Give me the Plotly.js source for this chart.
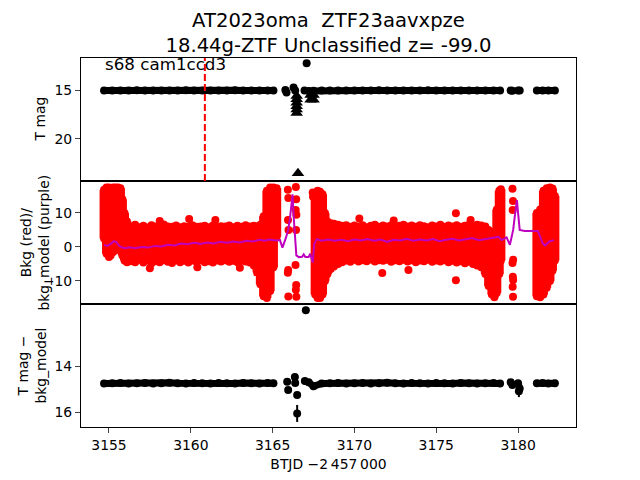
<!DOCTYPE html>
<html>
<head>
<meta charset="utf-8">
<script src="https://cdn.plot.ly/plotly-3.0.1.min.js"></script>
<style>
  body { margin: 0; background: #fff; }
  #chart { width: 640px; height: 480px; }
</style>
</head>
<body>
<div id="chart"></div>
<script>
// --- light curve (T mag) and T mag - bkg_model, same cadence; null = gap
const lcTime = [
  3154.7, 3155.2, 3155.7, 3156.2, 3156.7, 3157.2, 3157.7, 3158.2, 3158.7, 3159.2, 3159.7,
  3160.2, 3160.7, 3161.2, 3161.7, 3162.2, 3162.7, 3163.2, 3163.7, 3164.2, 3164.7, 3165.05,
  null,
  3167.2, 3167.5, 3168.0, 3168.5, 3169.0, 3169.5, 3170.0, 3170.5, 3171.0, 3171.5, 3172.0,
  3172.5, 3173.0, 3173.5, 3174.0, 3174.5, 3175.0, 3175.5, 3176.0, 3176.5, 3177.0, 3177.5,
  3178.0, 3178.5, 3178.9,
  null,
  3179.55, 3179.65,
  null,
  3180.0, 3180.1,
  null,
  3181.15, 3181.5, 3181.85, 3182.25
];
const lcMag = [
  15.05, 15.04, 15.06, 15.05, 15.03, 15.05, 15.06, 15.04, 15.05, 15.05, 15.03,
  15.04, 15.06, 15.05, 15.04, 15.05, 15.03, 15.06, 15.05, 15.04, 15.05, 15.06,
  null,
  15.10, 15.08, 15.05, 15.04, 15.06, 15.05, 15.04, 15.06, 15.05, 15.03, 15.05,
  15.06, 15.04, 15.05, 15.05, 15.03, 15.06, 15.04, 15.05, 15.06, 15.04, 15.05,
  15.05, 15.04, 15.06,
  null,
  15.05, 15.08,
  null,
  15.06, 15.04,
  null,
  15.05, 15.04, 15.06, 15.05
];
const lcMagSub = [
  14.76, 14.75, 14.74, 14.76, 14.75, 14.74, 14.76, 14.75, 14.73, 14.75, 14.76,
  14.74, 14.75, 14.76, 14.74, 14.75, 14.76, 14.74, 14.75, 14.76, 14.74, 14.75,
  null,
  14.70, 14.88, 14.76, 14.75, 14.74, 14.76, 14.75, 14.74, 14.76, 14.75, 14.73,
  14.75, 14.76, 14.74, 14.75, 14.76, 14.74, 14.75, 14.76, 14.74, 14.75, 14.76,
  14.75, 14.74, 14.76,
  null,
  14.70, 14.82,
  null,
  14.75, 14.98,
  null,
  14.75, 14.74, 14.76, 14.75
];

// isolated points around the gap
const lcPtTime = [3165.78, 3165.85, 3166.28, 3166.38, 3166.95, 3167.08];
const lcPtMag  = [15.0, 15.25, 14.75, 15.05, 15.05, 12.27];

const subPtTime = [3165.89, 3165.95, 3166.36, 3166.38, 3166.5, 3166.5, 3166.97, 3167.03, 3180.05];
const subPtMag  = [14.68, 15.04, 14.48, 14.74, 15.26, 16.06, 14.65, 11.57, 15.10];
const subPtErr  = [0, 0, 0, 0, 0.05, 0.37, 0, 0, 0.25];

// upper limits (triangles)
const limTime = [3166.47, 3166.47, 3166.47, 3166.47, 3166.47, 3166.47, 3167.32, 3167.5, 3167.32, 3167.5, 3166.55];
const limMag  = [15.6, 15.95, 16.3, 16.65, 17.0, 17.35, 15.5, 15.5, 16.0, 16.0, 23.5];

// --- background: envelope of the dense red scatter (low / high per time)
const bkgTime = [
  3154.70, 3154.85, 3155.00, 3155.10, 3155.25, 3155.40, 3155.55, 3155.70, 3155.82, 3155.95,
  3156.10, 3156.35, 3156.60, 3156.85, 3157.10, 3157.35, 3157.60, 3157.85, 3158.10, 3158.35,
  3158.60, 3158.85, 3159.10, 3159.35, 3159.60, 3159.85, 3160.10, 3160.35, 3160.60, 3160.85,
  3161.10, 3161.35, 3161.60, 3161.85, 3162.10, 3162.35, 3162.60, 3162.85, 3163.10, 3163.35,
  3163.60, 3163.85, 3164.05, 3164.25, 3164.45, 3164.65, 3164.85, 3165.05, 3165.25,
  3167.60, 3167.75, 3167.90, 3168.05, 3168.20, 3168.35, 3168.55, 3168.75, 3169.00, 3169.25,
  3169.50, 3169.75, 3170.00, 3170.25, 3170.50, 3170.75, 3171.00, 3171.25, 3171.50, 3171.75,
  3172.00, 3172.25, 3172.50, 3172.75, 3173.00, 3173.25, 3173.50, 3173.75, 3174.00, 3174.25,
  3174.50, 3174.75, 3175.00, 3175.25, 3175.50, 3175.75, 3176.00, 3176.25, 3176.50, 3176.75,
  3177.00, 3177.25, 3177.50, 3177.75, 3178.00, 3178.20, 3178.40, 3178.55, 3178.70, 3178.85,
  3178.95,
  3181.15, 3181.35, 3181.55, 3181.75, 3181.95, 3182.10, 3182.25
];
const bkgHi = [
  16.8, 17.5, 17.5, 15.8, 17.5, 17.5, 17.5, 17.3, 14.0, 10.0,
  7.5, 6.0, 6.5, 5.8, 6.2, 5.7, 6.4, 6.0, 5.8, 6.6,
  6.0, 5.9, 6.3, 5.8, 6.1, 5.9, 6.4, 5.9, 6.0, 6.2,
  5.8, 6.3, 5.9, 6.1, 6.0, 6.3, 5.8, 6.2, 5.9, 6.4,
  6.0, 6.2, 6.0, 6.5, 9.0, 16.5, 17.5, 17.5, 17.3,
  14.5, 16.5, 16.2, 15.5, 10.0, 7.5, 7.0, 6.8, 6.5, 6.2,
  6.4, 5.9, 6.3, 6.0, 6.4, 5.8, 6.2, 6.5, 5.9, 6.3,
  6.0, 6.4, 5.8, 6.2, 6.5, 6.0, 6.3, 5.9, 6.4, 6.1,
  5.8, 6.3, 6.0, 6.5, 5.9, 6.3, 6.0, 6.4, 5.9, 6.2,
  6.5, 6.0, 6.5, 6.3, 6.0, 5.0, 4.0, 4.5, 11.0, 16.5,
  17.0,
  10.0, 11.0, 16.5, 17.3, 17.5, 17.2, 15.0
];
const bkgLo = [
  2.5, -2.0, -3.0, -2.5, -1.5, -1.0, -0.5, -1.0, -2.5, -4.0,
  -4.5, -4.2, -4.5, -3.8, -4.6, -4.0, -4.8, -4.2, -4.5, -3.9,
  -4.4, -4.7, -4.0, -4.5, -4.1, -4.6, -4.0, -4.4, -3.9, -4.5,
  -4.2, -4.6, -4.0, -4.3, -3.9, -4.4, -4.1, -4.5, -4.0, -4.3,
  -4.6, -5.5, -7.5, -11.0, -14.5, -15.0, -13.0, -6.0, 3.0,
  -14.0, -15.0, -15.0, -14.0, -10.0, -8.0, -6.5, -5.8, -5.0, -4.5,
  -4.0, -4.4, -3.8, -4.3, -3.9, -4.2, -3.7, -4.3, -3.9, -4.1,
  -3.8, -4.4, -3.9, -4.2, -3.8, -4.3, -3.9, -4.5, -4.0, -4.2,
  -3.8, -4.4, -4.0, -4.3, -3.9, -4.5, -4.1, -4.6, -4.2, -4.8,
  -4.4, -5.0, -5.5, -6.0, -8.0, -11.5, -14.0, -14.8, -13.5, -8.0,
  -4.0,
  -14.5, -14.8, -14.0, -12.0, -10.0, -7.0, -4.0
];

// scattered background points outside the envelope
const bkgPtTime = [
  3165.93, 3165.96, 3165.94, 3165.97, 3165.95, 3165.93, 3165.96,
  3166.42, 3166.44, 3166.41, 3166.45, 3166.43, 3166.40, 3166.44, 3166.42, 3166.45,
  3167.45, 3167.47,
  3179.66, 3179.69, 3179.67, 3179.70, 3179.66, 3179.68, 3179.70, 3179.67, 3179.69,
  3157.5, 3158.1, 3159.9, 3160.4, 3161.5, 3163.0,
  3170.3, 3171.7, 3172.4, 3173.3, 3176.2, 3176.2, 3177.1
];
const bkgPtVal = [
  16.8, 14.4, 7.9, 5.0, -6.8, -7.6, -14.6,
  17.6, 14.0, 10.9, 9.5, 5.0, -5.3, -11.2, -12.6, -14.7,
  16.0, 14.8,
  17.1, 13.5, 10.9, -3.8, -4.7, -8.8, -9.7, -11.7, -14.7,
  -6.3, 7.6, 8.2, -6.0, 7.9, -6.1,
  8.4, -7.7, 7.8, -6.8, 9.9, -9.8, 7.9
];

// bkg_model (purple line)
const modelTime = [
  3154.7, 3154.9, 3155.1, 3155.3, 3155.45, 3155.6, 3155.8, 3156.0, 3156.3, 3156.6,
  3157.0, 3157.4, 3157.8, 3158.2, 3158.6, 3159.0, 3159.4, 3159.8, 3160.2, 3160.6,
  3161.0, 3161.4, 3161.8, 3162.2, 3162.6, 3163.0, 3163.4, 3163.8, 3164.2, 3164.5,
  3164.8, 3165.2, 3165.45, 3165.6, 3165.8, 3165.95, 3166.05, 3166.15, 3166.22, 3166.3,
  3166.38, 3166.45, 3166.6, 3166.8, 3166.9, 3167.0, 3167.2, 3167.3, 3167.45, 3167.55,
  3167.7, 3168.0, 3168.4, 3168.8, 3169.2, 3169.6, 3170.0, 3170.4, 3170.8, 3171.2,
  3171.6, 3172.0, 3172.4, 3172.8, 3173.2, 3173.6, 3174.0, 3174.4, 3174.8, 3175.2,
  3175.6, 3176.0, 3176.4, 3176.8, 3177.2, 3177.6, 3178.0, 3178.4, 3178.8, 3179.0,
  3179.3, 3179.5, 3179.7, 3179.85, 3179.93, 3180.0, 3180.1, 3180.4, 3181.2, 3181.35,
  3181.5, 3181.65, 3181.9, 3182.2
];
const modelVal = [
  0.6, 0.3, 0.9, 1.7, 1.4, 0.4, -0.2, -0.4, -0.1, -0.4,
  0.0, -0.2, 0.3, 0.1, 0.6, 0.4, 1.0, 0.8, 1.2, 0.9,
  1.3, 1.0, 1.5, 1.2, 1.6, 1.3, 1.8, 1.6, 2.1, 1.8,
  2.2, 1.9, 2.0, -0.2, 2.5, 5.0, 8.0, 12.0, 15.5, 8.0,
  1.0, -2.5, -3.0, -2.9, -2.2, -3.0, -3.0, -2.0, -4.6, 1.0,
  2.3, 1.8, 2.2, 1.8, 2.1, 1.7, 2.2, 1.9, 2.3, 1.8,
  2.2, 1.5, 2.1, 1.9, 2.4, 1.8, 2.2, 1.9, 2.3, 1.7,
  2.1, 2.4, 1.9, 2.2, 2.6, 2.0, 2.3, 2.8, 3.0, 2.0,
  2.8, 0.6, 5.0, 11.0, 13.8, 10.0, 5.0, 4.7, 4.7, 3.0,
  1.0, 0.4, 1.6, 2.0
];

const discoveryTime = 3160.86;
const xTicks = [3155, 3160, 3165, 3170, 3175, 3180];

// vertical strokes low -> high for the dense red scatter
const spanX = [], spanY = [];
bkgTime.forEach(function(t, i) {
    spanX.push(t, t, null);
    spanY.push(bkgLo[i], bkgHi[i], null);
});

const FONT = 'DejaVu Sans, sans-serif';

const data = [
    // top panel
    { x: lcTime, y: lcMag, xaxis: 'x3', yaxis: 'y3', mode: 'lines+markers',
      line: { color: 'black', width: 7 }, marker: { color: 'black', size: 8 } },
    { x: lcPtTime, y: lcPtMag, xaxis: 'x3', yaxis: 'y3', mode: 'markers',
      marker: { color: 'black', size: 8 } },
    { x: limTime, y: limMag, xaxis: 'x3', yaxis: 'y3', mode: 'markers',
      marker: { color: 'black', size: 11, symbol: 'triangle-up' } },
    // middle panel
    { x: spanX, y: spanY, xaxis: 'x2', yaxis: 'y2', mode: 'lines',
      line: { color: 'red', width: 9 } },
    { x: bkgTime.concat(bkgTime), y: bkgHi.concat(bkgLo), xaxis: 'x2', yaxis: 'y2',
      mode: 'markers', marker: { color: 'red', size: 8 } },
    { x: bkgPtTime, y: bkgPtVal, xaxis: 'x2', yaxis: 'y2', mode: 'markers',
      marker: { color: 'red', size: 8 } },
    { x: modelTime, y: modelVal, xaxis: 'x2', yaxis: 'y2', mode: 'lines',
      line: { color: '#bf00bf', width: 2 } },
    // bottom panel
    { x: lcTime, y: lcMagSub, xaxis: 'x', yaxis: 'y', mode: 'lines+markers',
      line: { color: 'black', width: 7 }, marker: { color: 'black', size: 8 } },
    { x: subPtTime, y: subPtMag, xaxis: 'x', yaxis: 'y', mode: 'markers',
      marker: { color: 'black', size: 8 },
      error_y: { type: 'data', array: subPtErr, color: 'black', thickness: 2, width: 0 } }
];

const xRange = [3153.29, 3183.54];
const boxed = { showline: true, mirror: true, linecolor: 'black', linewidth: 1,
                showgrid: false, zeroline: false };

const layout = {
    width: 640, height: 480,
    margin: { l: 81, r: 64, t: 58, b: 53 },
    paper_bgcolor: 'white', plot_bgcolor: 'white',
    showlegend: false,
    font: { family: FONT, size: 13.9, color: 'black' },
    title: {
        text: 'AT2023oma\u00a0 ZTF23aavxpze<br>18.44g-ZTF Unclassified z= -99.0',
        font: { size: 19.6 }, xref: 'paper', x: 0.5, xanchor: 'center',
        yref: 'container', y: 1 - 27 / 480, yanchor: 'top'
    },
    xaxis: Object.assign({}, boxed, {
        domain: [0, 1], anchor: 'y', range: xRange, tickvals: xTicks,
        ticks: 'outside', ticklen: 5,
        title: { text: 'BTJD \u22122\u2009457\u2009000', standoff: 7, font: { size: 13.9 } }
    }),
    xaxis2: Object.assign({}, boxed, { domain: [0, 1], anchor: 'y2', range: xRange,
        showticklabels: false, ticks: '' }),
    xaxis3: Object.assign({}, boxed, { domain: [0, 1], anchor: 'y3', range: xRange,
        showticklabels: false, ticks: '' }),
    yaxis: Object.assign({}, boxed, { domain: [0, 1 / 3], anchor: 'x',
        range: [16.65, 11.3], tickvals: [14, 16], ticks: 'outside', ticklen: 5 }),
    yaxis2: Object.assign({}, boxed, { domain: [1 / 3, 2 / 3], anchor: 'x2',
        range: [-16.8, 19.4], tickvals: [-10, 0, 10], ticks: 'outside', ticklen: 5 }),
    yaxis3: Object.assign({}, boxed, { domain: [2 / 3, 1], anchor: 'x3',
        range: [24.29, 11.73], tickvals: [15, 20], ticks: 'outside', ticklen: 5 }),
    shapes: [{
        type: 'line', xref: 'x3', yref: 'y3 domain',
        x0: discoveryTime, x1: discoveryTime, y0: 0, y1: 1,
        line: { color: 'red', width: 2, dash: '7px,3px' }
    }],
    annotations: [
        { text: 's68 cam1ccd3', xref: 'paper', yref: 'paper', x: 22 / 495, y: 1 - 6 / 369,
          xanchor: 'left', yanchor: 'middle', showarrow: false, font: { size: 16.7 } },
        { text: 'T mag', xref: 'paper', yref: 'paper', x: -41 / 495, y: 5 / 6,
          textangle: -90, xanchor: 'center', yanchor: 'middle', showarrow: false },
        { text: 'Bkg (red)/<br>bkg_model (purple)', xref: 'paper', yref: 'paper',
          x: -47 / 495, y: 0.5, textangle: -90, xanchor: 'center', yanchor: 'middle',
          showarrow: false },
        { text: 'T mag \u2212<br>bkg_model', xref: 'paper', yref: 'paper',
          x: -50 / 495, y: 1 / 6, textangle: -90, xanchor: 'center', yanchor: 'middle',
          showarrow: false }
    ]
};

Plotly.newPlot('chart', data, layout, { staticPlot: true });
</script>
</body>
</html>
